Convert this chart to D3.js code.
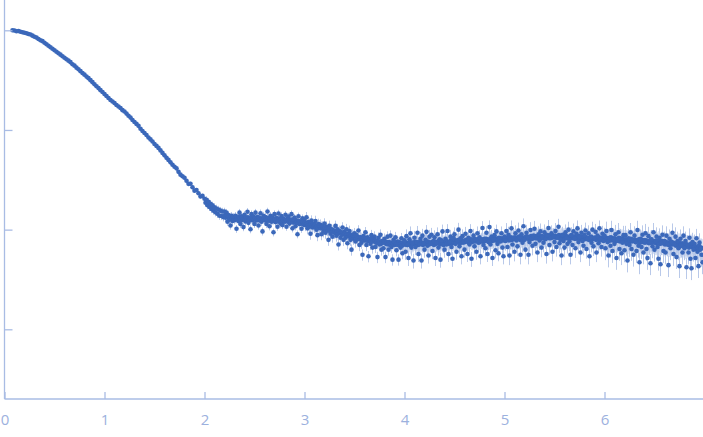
<!DOCTYPE html>
<meta charset="utf-8">
<style>
  body { margin: 0; background: #fff; }
  svg { display: block; }
</style>
<body>
<script src="https://d3js.org/d3.v7.min.js"></script>
<script>

var width = 703,
    height = 437;

// scattering curve: low q every 0.02, the rest every 0.01
var qStartA = 0.08, qStepA = 0.02;
var intensityA = [
  1000, 996, 977, 985, 966, 955, 944, 933, 918, 908,
  884, 861, 845, 818, 794, 778, 750, 724, 700, 676,
  654, 631, 610, 589, 570, 550, 531, 513, 496, 479,
  457, 442, 422, 407, 389, 372, 359, 343, 331, 316,
  302, 288, 275, 263, 251, 240, 229, 219, 209, 200,
  193, 186, 178, 172, 166, 158, 153, 146, 139, 133,
  126, 120, 115, 110, 103, 97.7, 93.3, 89.1, 84.1, 80.4,
  76.7, 72.4, 69.2, 66.1, 62.4, 58.9, 55.6, 52.5, 50.1, 47.3,
  44.7, 42.7, 41.2, 38.0, 35.6, 34.3, 33.1, 30.9, 28.8, 28.9,
  26.6, 24.6, 25.0, 23.2, 21.5, 21.8
];

var qStartB = 2.00, qStepB = 0.01;
var intensityB = [
  20.4, 18.6, 19.9, 17.6, 19.0, 16.9, 18.2, 16.1, 17.5, 15.5,
  16.8, 14.9, 16.3, 14.4, 15.9, 13.8, 15.5, 13.7, 15.2, 13.3,
  15.2, 13.2, 14.8, 12.0, 14.0, 12.6, 11.0, 13.8, 12.2, 13.4,
  12.4, 13.8, 10.2, 13.2, 12.2, 14.8, 11.4, 13.6, 12.6, 10.6,
  14.1, 12.1, 13.1, 15.1, 11.7, 12.9, 10.1, 14.3, 12.5, 13.5,
  11.4, 14.8, 12.4, 13.4, 11.0, 12.8, 14.6, 12.0, 9.6, 13.8,
  12.6, 13.4, 11.4, 15.2, 12.4, 10.8, 13.8, 12.0, 13.2, 9.4,
  14.3, 11.9, 13.1, 10.7, 14.5, 12.3, 11.5, 13.7, 11.1, 12.9,
  12.3, 14.1, 10.7, 12.9, 13.5, 11.5, 12.5, 14.3, 10.3, 11.9,
  13.2, 10.8, 12.4, 9.0, 13.6, 11.4, 12.0, 10.2, 13.0, 11.2,
  12.5, 11.1, 13.3, 10.3, 11.9, 10.7, 9.1, 12.3, 10.5, 11.3,
  10.6, 12.2, 10.0, 8.8, 11.4, 10.4, 11.2, 9.0, 10.6, 9.6,
  11.5, 9.3, 10.7, 9.9, 7.9, 10.9, 9.1, 10.1, 8.5, 9.7,
  9.3, 10.9, 8.7, 10.1, 7.1, 9.7, 8.3, 9.3, 10.5, 7.9,
  9.5, 8.3, 10.1, 7.3, 9.1, 9.7, 7.9, 6.3, 8.9, 8.1,
  9.2, 7.6, 8.8, 8.0, 9.8, 7.0, 8.4, 7.4, 5.6, 8.6,
  7.8, 9.4, 7.0, 8.4, 5.4, 8.0, 7.2, 8.8, 6.6, 7.6,
  8.5, 6.7, 7.7, 5.3, 8.3, 7.1, 8.9, 6.3, 7.5, 6.5,
  8.1, 5.3, 7.5, 8.5, 6.3, 7.1, 8.7, 6.7, 5.0, 7.9,
  7.0, 8.4, 6.2, 7.6, 5.0, 7.4, 6.6, 8.2, 5.8, 7.2
];

var qStartC = 4.00, qStepC = 0.01;
var intensityC = [
  7.8, 6.0, 8.6, 7.0, 5.2, 8.0, 9.2, 6.6, 7.4, 4.9,
  8.3, 6.7, 7.5, 9.3, 5.7, 7.1, 8.1, 4.9, 8.7, 7.3,
  6.3, 7.9, 9.5, 6.9, 5.5, 8.5, 7.3, 8.9, 6.1, 7.7,
  8.4, 5.2, 7.4, 9.0, 6.6, 8.0, 5.0, 7.8, 9.6, 7.0,
  6.3, 8.1, 7.1, 9.7, 5.7, 7.5, 8.5, 6.7, 5.1, 8.3,
  9.0, 7.2, 6.0, 7.8, 10.0, 6.8, 8.2, 5.4, 8.6, 7.6,
  6.3, 9.1, 7.7, 5.7, 8.3, 7.1, 9.7, 5.1, 7.9, 8.7,
  6.8, 8.0, 6.0, 9.2, 7.4, 8.4, 5.4, 7.8, 10.4, 7.0,
  8.1, 6.5, 9.3, 5.7, 7.5, 10.6, 7.1, 8.5, 5.2, 7.9,
  8.8, 6.2, 9.6, 7.2, 5.8, 8.2, 7.6, 9.2, 6.6, 5.4,
  8.5, 7.7, 9.7, 6.7, 8.9, 5.5, 7.9, 10.3, 7.1, 8.3,
  6.0, 9.2, 7.8, 6.8, 9.8, 8.4, 5.6, 9.0, 7.4, 10.8,
  7.9, 6.3, 9.3, 8.5, 5.6, 7.5, 9.9, 8.1, 6.9, 8.7,
  10.2, 7.2, 8.2, 5.9, 9.0, 7.8, 9.6, 6.6, 8.4, 7.4,
  9.4, 8.0, 5.7, 8.8, 10.4, 7.0, 8.2, 9.2, 6.0, 8.6,
  7.5, 9.7, 6.7, 8.3, 10.7, 7.3, 7.9, 5.5, 8.9, 7.7,
  6.6, 9.4, 8.2, 7.2, 10.0, 7.6, 5.6, 8.8, 7.0, 9.6,
  8.1, 6.5, 9.1, 10.3, 7.5, 8.5, 5.9, 9.3, 7.7, 6.9,
  8.8, 9.8, 6.4, 8.0, 9.2, 5.4, 8.4, 7.4, 10.0, 6.8,
  8.3, 9.5, 5.9, 8.7, 7.3, 10.3, 7.9, 6.7, 9.1, 7.7
];

var qStartD = 6.00, qStepD = 0.01;
var intensityD = [
  8.7, 6.5, 9.7, 7.5, 5.5, 8.3, 6.9, 9.9, 6.1, 7.9,
  7.2, 9.0, 5.2, 7.8, 9.4, 6.4, 8.2, 5.8, 7.4, 8.8,
  6.2, 8.8, 7.2, 4.9, 8.2, 7.0, 9.4, 6.4, 7.8, 5.6,
  8.7, 7.5, 6.1, 9.9, 6.9, 4.7, 8.1, 6.7, 8.9, 5.9,
  7.8, 9.2, 6.4, 5.2, 8.6, 7.4, 4.6, 8.0, 6.8, 9.4,
  6.3, 7.7, 8.5, 6.7, 5.1, 8.3, 4.5, 7.3, 8.9, 6.1,
  7.7, 5.9, 8.7, 7.1, 4.4, 8.1, 6.5, 7.5, 9.3, 5.7,
  7.1, 8.5, 5.3, 7.7, 6.5, 4.3, 8.1, 6.9, 5.9, 8.7,
  6.5, 7.7, 4.2, 7.1, 5.9, 8.3, 5.1, 4.1, 7.5, 6.3,
  7.2, 5.2, 8.2, 6.0, 4.3, 7.4, 6.4, 5.6, 4.7
];

// in-between frames, q = 2.205 ... 6.975
var qStartE = 2.205, qStepE = 0.01;
var intensityE = [
  13.9, 13.4, 13.8, 13.2, 13.5, 12.9, 13.6, 13.1, 13.4, 12.8,
  13.3, 12.7, 13.1, 12.6, 13.4, 12.9, 12.5, 13.2, 12.8, 13.0,
  12.6, 13.2, 12.8, 13.3, 12.5, 12.9, 13.1, 12.4, 13.0, 12.7,
  13.1, 12.5, 12.9, 12.4, 13.2, 12.7, 12.3, 13.0, 12.6, 13.1,
  12.4, 12.9, 12.6, 13.1, 12.3, 12.8, 12.5, 13.0, 12.2, 12.7,
  12.8, 12.2, 12.6, 12.1, 12.9, 12.4, 12.7, 12.0, 12.5, 12.3,
  12.0, 12.5, 12.2, 12.7, 11.9, 12.4, 12.1, 12.6, 11.8, 12.3,
  12.3, 11.7, 12.1, 11.6, 12.2, 11.9, 11.5, 12.0, 11.8, 11.4,
  11.8, 11.3, 11.6, 11.1, 11.7, 11.2, 11.5, 10.9, 11.3, 11.0,
  11.1, 10.6, 10.9, 10.4, 11.0, 10.7, 10.3, 10.8, 10.5, 10.2,
  10.4, 9.9, 10.2, 9.8, 10.3, 9.7, 10.0, 9.6, 9.9, 9.5,
  9.7, 9.3, 9.6, 9.1, 9.5, 9.2, 9.4, 8.9, 9.3, 9.0,
  9.1, 8.7, 9.0, 8.6, 8.9, 8.5, 8.8, 8.4, 8.7, 8.6,
  8.6, 8.2, 8.5, 8.1, 8.4, 8.0, 8.3, 8.2, 7.9, 8.3,
  8.2, 7.8, 8.1, 7.7, 8.0, 7.9, 7.6, 8.1, 7.7, 7.9,
  7.8, 7.4, 7.7, 7.3, 7.6, 7.5, 7.2, 7.7, 7.4, 7.5,
  7.5, 7.2, 7.4, 7.1, 7.5, 7.3, 7.0, 7.4, 7.2, 7.6,
  7.4, 7.1, 7.3, 7.0, 7.5, 7.2, 7.3, 6.9, 7.4, 7.1,
  7.1, 7.4, 7.0, 7.3, 7.2, 7.5, 6.9, 7.3, 7.1, 7.4,
  7.5, 7.1, 7.4, 7.0, 7.3, 7.6, 7.2, 7.4, 7.0, 7.3,
  7.2, 7.5, 7.3, 7.6, 7.1, 7.4, 7.2, 7.5, 7.3, 7.0,
  7.6, 7.2, 7.5, 7.3, 7.7, 7.1, 7.4, 7.6, 7.2, 7.5,
  7.3, 7.7, 7.4, 7.6, 7.2, 7.5, 7.8, 7.3, 7.6, 7.4,
  7.8, 7.4, 7.7, 7.5, 7.9, 7.3, 7.6, 7.8, 7.4, 7.7,
  7.5, 7.9, 7.6, 7.8, 7.4, 7.7, 8.0, 7.5, 7.8, 7.6,
  8.0, 7.6, 7.9, 7.7, 8.1, 7.5, 7.8, 8.0, 7.6, 7.9,
  7.7, 8.1, 7.8, 8.0, 7.6, 7.9, 8.2, 7.7, 8.0, 7.8,
  8.2, 7.8, 8.1, 7.9, 8.3, 7.7, 8.0, 8.2, 7.8, 8.1,
  7.9, 8.3, 8.0, 8.2, 7.8, 8.1, 8.4, 7.9, 8.2, 8.0,
  8.4, 8.0, 8.3, 8.1, 8.5, 7.9, 8.2, 8.4, 8.0, 8.3,
  8.1, 8.5, 8.2, 8.4, 8.0, 8.3, 8.6, 8.1, 8.4, 8.2,
  8.6, 8.2, 8.5, 8.3, 8.7, 8.1, 8.4, 8.6, 8.2, 8.5,
  8.3, 8.7, 8.4, 8.6, 8.2, 8.5, 8.8, 8.3, 8.6, 8.4,
  8.7, 8.3, 8.6, 8.4, 8.8, 8.2, 8.5, 8.7, 8.3, 8.6,
  8.2, 8.6, 8.3, 8.5, 8.1, 8.4, 8.7, 8.2, 8.5, 8.3,
  8.5, 8.1, 8.4, 8.2, 8.6, 8.0, 8.3, 8.5, 8.1, 8.4,
  8.0, 8.4, 8.1, 8.3, 7.9, 8.2, 8.5, 8.0, 8.3, 8.1,
  8.3, 7.9, 8.2, 8.0, 8.4, 7.8, 8.1, 8.3, 7.9, 8.2,
  7.9, 8.3, 8.0, 8.2, 7.7, 8.1, 8.4, 7.8, 8.2, 7.9,
  8.2, 7.7, 8.0, 7.8, 8.3, 7.6, 7.9, 8.1, 7.7, 8.0,
  7.6, 8.0, 7.7, 7.9, 7.5, 7.8, 8.1, 7.6, 7.9, 7.7,
  7.9, 7.5, 7.8, 7.6, 8.0, 7.4, 7.7, 7.9, 7.5, 7.8,
  7.4, 7.8, 7.5, 7.7, 7.3, 7.6, 7.9, 7.4, 7.7, 7.5,
  7.7, 7.3, 7.6, 7.4, 7.8, 7.2, 7.5, 7.7, 7.3, 7.6,
  7.1, 7.5, 7.2, 7.4, 7.0, 7.3, 7.6, 7.1, 7.4, 7.2,
  7.3, 6.9, 7.2, 7.0, 7.4, 6.8, 7.1, 7.3, 6.9, 7.2,
  6.7, 7.1, 6.8, 7.0, 6.6, 6.9, 7.2, 6.7, 7.0, 6.8,
  6.8, 6.4, 6.7, 6.5, 6.9, 6.3, 6.6, 6.5
];

// relative error, by q range
var errQMax = [1.0, 1.6, 2.0, 3.0, 4.0, 5.0, 6.0, 7.1];
var errRel  = [0.01, 0.02, 0.05, 0.09, 0.13, 0.17, 0.2, 0.24];

var xTicks = [0, 1, 2, 3, 4, 5, 6];
var yTicks = [1000, 100, 10, 1];

function piece(q0, step, vals) {
  return vals.map(function(v, i) { return {q: q0 + i * step, I: v}; });
}
var data = [].concat(
  piece(qStartA, qStepA, intensityA),
  piece(qStartB, qStepB, intensityB),
  piece(qStartE, qStepE, intensityE),
  piece(qStartC, qStepC, intensityC),
  piece(qStartD, qStepD, intensityD)
);
data.forEach(function(d) {
  var k = d3.bisectLeft(errQMax, d.q);
  d.err = d.I * errRel[Math.min(k, errRel.length - 1)];
});

var axisColor = "#a9bce4",
    labelColor = "#9cb1de",
    dotColor = "#3b68ba",
    barColor = "#b9c9e9";

var x = d3.scaleLinear().domain([0, 6.985]).range([4.5, 703]);
var y = d3.scaleLog().domain([1000, 1]).range([30.3, 329.3]);

var svg = d3.select("body").append("svg")
    .attr("width", width)
    .attr("height", height);

// error bars
svg.append("g")
  .selectAll("line")
  .data(data)
  .join("line")
    .attr("x1", d => x(d.q))
    .attr("x2", d => x(d.q))
    .attr("y1", d => y(d.I + d.err))
    .attr("y2", d => y(Math.max(d.I - d.err, 0.01)))
    .attr("stroke", barColor)
    .attr("stroke-width", 1);

// points
svg.append("g")
  .selectAll("circle")
  .data(data)
  .join("circle")
    .attr("cx", d => x(d.q))
    .attr("cy", d => y(d.I))
    .attr("r", 2.3)
    .attr("fill", dotColor);

// axes
var xAxis = svg.append("g")
    .attr("transform", "translate(0,399)")
    .call(d3.axisTop(x).tickValues(xTicks).tickSize(7).tickFormat(d3.format("d")));
xAxis.select(".domain").attr("d", "M4.5,0H703");

xAxis.selectAll("text")
    .attr("y", 21)
    .attr("dy", "0.32em");

var yAxis = svg.append("g")
    .attr("transform", "translate(4.5,0)")
    .call(d3.axisRight(y).tickValues(yTicks).tickSize(8).tickFormat(""));
yAxis.select(".domain").attr("d", "M0,0V399");

svg.selectAll(".domain, .tick line")
    .attr("stroke", axisColor)
    .attr("stroke-width", 1.3);
svg.selectAll(".tick text")
    .attr("fill", labelColor)
    .attr("font-family", "'Open Sans', sans-serif")
    .attr("font-size", 15);

</script>
